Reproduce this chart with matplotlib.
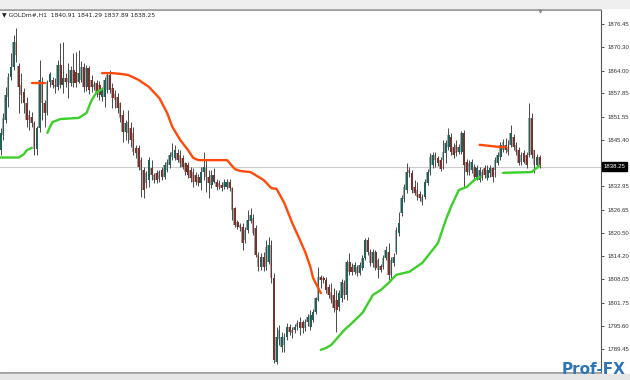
import matplotlib
matplotlib.use("Agg")
import matplotlib.pyplot as plt
from matplotlib.patches import Rectangle
import matplotlib.transforms as mtransforms

plt.rcParams['font.family'] = ['Liberation Sans', 'DejaVu Sans']

# GOLDm#, H1 candles (oldest -> newest)
symbol = "GOLDm#,H1"

opens = [
    1842.7, 1846.7, 1850.8, 1856.9, 1862.3, 1864.9, 1871.6, 1865.2, 1860.1, 1858.2,
    1855.3, 1852.1, 1851.5, 1849.9, 1843.0, 1848.6, 1860.9, 1855.3, 1852.6, 1860.9,
    1861.5, 1860.1, 1859.6, 1865.5, 1860.1, 1862.0, 1860.9, 1860.7, 1864.1, 1863.6,
    1860.9, 1861.5, 1864.9, 1859.6, 1864.7, 1861.5, 1859.6,
    1860.7, 1860.1, 1856.9, 1856.9, 1858.8, 1862.8, 1859.3, 1857.7, 1856.9, 1855.3,
    1852.1, 1847.5, 1850.2, 1848.5, 1847.3, 1843.2, 1843.2, 1840.0, 1837.4, 1833.9,
    1834.7, 1837.9, 1836.0, 1836.6, 1834.9, 1837.4, 1835.5, 1837.4, 1838.7, 1840.8,
    1840.5, 1841.9, 1841.4, 1840.5, 1839.2, 1838.7, 1837.4, 1836.8, 1836.0,
    1835.5, 1833.9, 1836.8, 1837.9, 1835.5, 1833.4, 1836.0, 1834.2, 1833.9, 1833.4,
    1832.8, 1832.8, 1834.2, 1832.5, 1827.2, 1823.4, 1822.6, 1822.1, 1818.6, 1821.3,
    1823.7, 1824.5, 1821.8, 1814.6, 1811.4, 1814.1, 1811.4, 1812.7, 1817.3, 1808.5,
    1786.0, 1792.0, 1790.0, 1790.5, 1792.7, 1795.3, 1794.5, 1794.5,
    1795.3, 1796.6, 1796.6, 1795.0, 1796.6, 1795.3, 1797.2, 1799.3, 1802.6, 1808.7,
    1808.5, 1807.9, 1806.0, 1804.7, 1803.9, 1802.6, 1800.7, 1803.0, 1807.0, 1803.9,
    1812.7, 1811.5, 1810.1, 1811.4, 1809.8, 1811.0, 1813.8, 1818.6, 1815.4, 1812.5,
    1815.4, 1810.6, 1811.6, 1811.4, 1813.8, 1815.4, 1809.3, 1812.5, 1815.4, 1820.5,
    1825.9, 1829.6, 1832.0, 1837.4, 1836.6, 1832.8, 1832.0, 1831.0, 1828.8, 1830.2,
    1834.0, 1836.8, 1838.7, 1841.4, 1840.5, 1840.0, 1840.0, 1842.0, 1843.5, 1846.2,
    1843.5, 1844.0, 1842.2, 1842.2, 1847.3, 1839.5, 1836.8, 1837.4, 1838.2, 1835.2,
    1834.7, 1836.8,
    1837.9, 1835.2, 1836.6, 1837.9, 1837.4, 1839.2, 1840.8, 1842.7, 1844.1, 1843.5,
    1844.1, 1846.2, 1844.0, 1842.7, 1839.5, 1841.9, 1841.4, 1841.4, 1851.3, 1842.7,
    1838.7, 1840.91,
]
highs = [
    1848.6, 1852.6, 1859.6, 1863.3, 1868.7, 1873.5, 1875.4, 1866.0, 1863.3, 1859.3,
    1856.9, 1853.4, 1852.9, 1850.5, 1849.1, 1866.8, 1862.3, 1856.1, 1861.5, 1863.6,
    1862.3, 1862.0, 1866.8, 1871.4, 1871.6, 1863.3, 1866.0, 1865.2, 1868.7, 1869.0,
    1869.5, 1866.5, 1866.0, 1865.5, 1865.2, 1862.8, 1861.2,
    1861.5, 1861.2, 1859.6, 1862.3, 1863.6, 1864.1, 1860.7, 1858.8, 1858.0, 1855.6,
    1853.4, 1850.8, 1853.4, 1850.2, 1848.9, 1844.0, 1844.1, 1840.8, 1838.2, 1837.1,
    1840.8, 1840.0, 1836.6, 1837.4, 1837.4, 1838.2, 1839.5, 1840.3, 1842.2, 1844.6,
    1844.1, 1843.0, 1842.7, 1841.4, 1839.5, 1839.5, 1838.2, 1837.9, 1836.8,
    1836.3, 1838.2, 1842.2, 1840.0, 1837.4, 1837.4, 1837.9, 1834.9, 1834.7, 1834.2,
    1834.9, 1834.9, 1834.9, 1832.8, 1827.5, 1824.0, 1823.2, 1823.2, 1822.1, 1826.7,
    1827.2, 1825.6, 1822.6, 1815.4, 1815.0, 1815.4, 1818.6, 1819.4, 1818.6, 1809.8,
    1795.3, 1795.9, 1794.0, 1793.7, 1796.4, 1796.1, 1795.3, 1796.1,
    1797.2, 1798.0, 1797.2, 1797.5, 1798.8, 1799.9, 1800.2, 1803.4, 1811.4, 1809.3,
    1809.0, 1808.7, 1806.8, 1807.1, 1805.8, 1805.2, 1805.2, 1808.2, 1807.9, 1813.3,
    1815.1, 1812.5, 1812.7, 1812.0, 1812.7, 1814.6, 1819.2, 1819.4, 1816.2, 1816.2,
    1816.0, 1813.8, 1812.2, 1814.6, 1817.0, 1817.8, 1814.1, 1815.0, 1822.1, 1826.1,
    1830.7, 1833.6, 1839.2, 1838.2, 1837.4, 1834.7, 1834.2, 1831.8, 1831.0, 1835.0,
    1837.6, 1841.9, 1842.2, 1842.2, 1841.1, 1840.8, 1845.4, 1845.4, 1848.6, 1847.3,
    1844.6, 1845.4, 1844.3, 1847.8, 1848.0, 1840.3, 1840.0, 1840.3, 1839.0, 1838.7,
    1838.2, 1837.6,
    1838.7, 1838.7, 1838.7, 1838.2, 1840.8, 1842.2, 1844.9, 1845.7, 1845.9, 1845.4,
    1849.4, 1847.0, 1844.9, 1843.5, 1842.2, 1842.7, 1842.2, 1855.3, 1852.6, 1842.7,
    1841.6, 1841.29,
]
lows = [
    1841.4, 1845.4, 1849.9, 1854.2, 1861.5, 1864.1, 1866.3, 1852.6, 1855.3, 1852.6,
    1848.9, 1848.1, 1848.9, 1841.4, 1841.4, 1847.5, 1850.8, 1848.9, 1852.1, 1859.6,
    1859.3, 1858.0, 1858.8, 1859.3, 1858.0, 1859.6, 1856.6, 1859.9, 1859.6, 1859.6,
    1860.6, 1860.9, 1858.2, 1858.5, 1857.7, 1858.2, 1858.8,
    1856.9, 1856.1, 1855.8, 1854.2, 1858.0, 1858.0, 1854.0, 1854.0, 1852.6, 1850.2,
    1844.9, 1845.4, 1844.6, 1843.5, 1841.4, 1840.6, 1837.4, 1830.1, 1829.9, 1832.5,
    1832.8, 1834.7, 1833.9, 1833.9, 1834.1, 1834.7, 1835.0, 1836.8, 1838.0, 1840.0,
    1840.0, 1839.5, 1838.2, 1837.6, 1836.0, 1835.2, 1834.2, 1832.8, 1833.4,
    1833.1, 1832.0, 1834.7, 1831.5, 1829.9, 1832.5, 1833.9, 1832.0, 1832.3, 1831.8,
    1832.3, 1832.3, 1831.8, 1824.0, 1822.1, 1821.5, 1821.0, 1816.0, 1817.8, 1820.5,
    1823.2, 1819.9, 1814.1, 1810.3, 1810.6, 1810.3, 1810.6, 1812.2, 1807.1, 1785.7,
    1785.4, 1790.5, 1788.6, 1788.6, 1791.9, 1793.2, 1792.4, 1793.7,
    1794.5, 1793.2, 1793.7, 1794.3, 1795.6, 1794.5, 1796.6, 1798.8, 1802.3, 1805.8,
    1807.1, 1804.4, 1803.1, 1801.7, 1799.3, 1794.0, 1799.6, 1802.0, 1802.8, 1802.6,
    1809.3, 1809.3, 1809.6, 1809.0, 1809.3, 1810.6, 1813.3, 1814.6, 1811.7, 1811.4,
    1810.6, 1808.5, 1810.1, 1810.9, 1813.3, 1807.9, 1808.5, 1811.6, 1814.9, 1819.7,
    1825.1, 1828.8, 1831.2, 1835.5, 1831.2, 1830.7, 1829.3, 1829.1, 1828.0, 1829.6,
    1833.3, 1836.0, 1838.0, 1838.2, 1838.5, 1837.0, 1837.6, 1839.2, 1842.7, 1841.4,
    1840.6, 1841.0, 1841.6, 1841.6, 1832.8, 1836.0, 1836.0, 1836.6, 1834.7, 1834.7,
    1834.2, 1834.7,
    1835.2, 1834.7, 1835.5, 1834.2, 1835.5, 1838.7, 1840.0, 1842.2, 1842.0, 1841.4,
    1843.5, 1842.7, 1841.4, 1838.7, 1838.7, 1839.2, 1838.0, 1840.8, 1840.6, 1836.6,
    1838.0, 1837.89,
]
closes = [
    1847.3, 1851.3, 1857.4, 1862.3, 1864.9, 1871.6, 1868.2, 1859.6, 1857.4, 1855.3,
    1850.8, 1850.8, 1849.9, 1843.0, 1848.6, 1861.5, 1855.3, 1852.6, 1860.9, 1863.1,
    1860.1, 1859.6, 1865.5, 1860.1, 1862.0, 1860.9, 1862.0, 1864.1, 1860.7, 1860.7,
    1863.3, 1864.9, 1859.6, 1864.7, 1858.8, 1859.6, 1860.4,
    1858.0, 1857.4, 1858.8, 1861.5, 1862.8, 1858.8, 1856.6, 1856.1, 1853.9, 1851.3,
    1847.5, 1849.9, 1847.3, 1845.4, 1842.2, 1841.9, 1838.2, 1837.4, 1832.0, 1836.6,
    1840.0, 1836.0, 1834.7, 1834.7, 1836.8, 1835.5, 1838.7, 1839.5, 1841.4, 1842.2,
    1842.7, 1840.0, 1839.2, 1838.2, 1836.8, 1836.0, 1835.2, 1834.2, 1834.2,
    1833.9, 1836.8, 1838.2, 1835.5, 1833.9, 1836.0, 1834.2, 1832.8, 1832.8, 1832.5,
    1834.2, 1834.2, 1832.5, 1826.7, 1822.6, 1822.1, 1821.8, 1817.8, 1821.3, 1824.0,
    1825.3, 1820.5, 1814.6, 1811.4, 1814.1, 1811.4, 1816.8, 1817.3, 1808.5, 1786.5,
    1792.7, 1794.5, 1792.7, 1792.7, 1795.3, 1794.0, 1793.7, 1795.3,
    1796.4, 1795.0, 1795.0, 1796.6, 1798.0, 1798.5, 1799.3, 1803.1, 1808.7, 1807.9,
    1807.9, 1805.2, 1803.9, 1802.6, 1800.4, 1799.9, 1804.4, 1807.4, 1803.9, 1812.7,
    1810.1, 1810.1, 1811.9, 1809.8, 1811.9, 1813.8, 1818.6, 1815.4, 1812.5, 1815.4,
    1811.1, 1813.3, 1810.6, 1813.8, 1815.9, 1809.3, 1813.3, 1814.1, 1821.3, 1823.2,
    1829.9, 1832.8, 1836.8, 1836.6, 1832.0, 1831.2, 1830.1, 1829.9, 1830.2, 1834.2,
    1836.8, 1840.8, 1841.4, 1840.0, 1839.2, 1837.6, 1842.2, 1844.6, 1846.7, 1842.2,
    1841.4, 1841.9, 1843.5, 1847.3, 1838.7, 1836.8, 1839.2, 1839.5, 1835.5, 1837.9,
    1837.4, 1835.2,
    1836.0, 1837.4, 1837.9, 1835.5, 1840.0, 1841.4, 1844.1, 1844.9, 1842.7, 1842.2,
    1847.3, 1843.5, 1842.2, 1839.2, 1841.4, 1839.5, 1838.7, 1851.3, 1841.4, 1838.7,
    1840.8, 1838.25,
]

# indicator lines (bar index, price); gaps where the indicator is not drawn
orange_a_bar = [12, 17]
orange_a = [1860.7, 1860.7]
orange_b_bar = [39, 43, 46, 49, 53, 57, 61, 64, 66, 69, 72, 74, 76, 87, 90, 92,
                96, 101, 104, 106, 109, 112, 115, 117, 119, 120, 123]
orange_b = [1863.3, 1863.3, 1863.1, 1862.8, 1861.5, 1859.6, 1856.6, 1852.6, 1848.9,
            1845.4, 1842.7, 1840.6, 1840.0, 1840.0, 1837.6, 1837.1, 1836.8, 1834.7,
            1832.5, 1832.3, 1828.5, 1823.2, 1818.6, 1815.4, 1811.4, 1808.5, 1804.4]
orange_c_bar = [184, 188, 192, 194]
orange_c = [1844.1, 1843.8, 1843.5, 1843.5]

green_a_bar = [0, 7, 9, 10, 12]
green_a = [1840.7, 1840.7, 1841.6, 1842.6, 1843.3]
green_b_bar = [18, 19, 20, 23, 30, 33, 35, 37, 39]
green_b = [1847.3, 1848.9, 1850.2, 1851.0, 1851.3, 1852.6, 1856.1, 1858.2, 1859.0]
green_c_bar = [123, 125, 127, 132, 135, 139, 143, 146, 149, 152, 157, 162, 168, 171,
               173, 176, 179, 182, 184]
green_c = [1789.2, 1789.7, 1790.5, 1794.5, 1796.4, 1799.1, 1803.9, 1805.2, 1807.1,
           1809.3, 1810.1, 1812.5, 1817.8, 1824.0, 1827.5, 1832.0, 1832.8, 1834.7, 1835.5]
green_d_bar = [193, 204, 205, 207]
green_d = [1836.6, 1836.8, 1837.4, 1838.5]

price_ticks = [1876.45, 1870.30, 1864.00, 1857.85, 1851.55, 1845.40, 1832.95,
               1826.65, 1820.50, 1814.20, 1808.05, 1801.75, 1795.60, 1789.45]

bull_color = '#22605a'
bear_color = '#7a302b'
orange = '#ff4a0a'
green = '#3ccf2a'

fig = plt.figure(figsize=(6.3, 3.8), dpi=100)
fig.patches.append(Rectangle((0, 372 / 380), 1, 8 / 380, transform=fig.transFigure,
                             color='#efefef', zorder=0))
fig.patches.append(Rectangle((0, 0), 1, 6 / 380, transform=fig.transFigure,
                             color='#e6e6e6', zorder=0))
ax = fig.add_axes([0, 7 / 380, 601 / 630, 363 / 380])

n = len(closes)
x = list(range(n))

# price line of the last close
ax.axhline(closes[-1], color='#cccccc', lw=0.8, zorder=0)

# candles: wick, grey shade, coloured body
ax.vlines(x, lows, highs, color='#4a4a4a', lw=0.7, zorder=1)
bottoms = [min(o, c) for o, c in zip(opens, closes)]
heights = [max(abs(c - o), 0.35) for o, c in zip(opens, closes)]
cols = [bull_color if c >= o else bear_color for o, c in zip(opens, closes)]
ax.bar([i - 0.12 for i in x], heights, bottom=bottoms, width=0.85, color='#a8a8a8',
       zorder=2, linewidth=0)
ax.bar([i + 0.1 for i in x], heights, bottom=bottoms, width=0.65, color=cols,
       zorder=3, linewidth=0)

for bars, vals, col in [(orange_a_bar, orange_a, orange), (orange_b_bar, orange_b, orange),
                        (orange_c_bar, orange_c, orange), (green_a_bar, green_a, green),
                        (green_b_bar, green_b, green), (green_c_bar, green_c, green),
                        (green_d_bar, green_d, green)]:
    ax.plot(bars, vals, color=col, lw=1.7, solid_capstyle='round', zorder=4)

ax.set_xlim(-0.2, 230.6)
ax.set_ylim(1783.0, 1880.2)
ax.set_xticks([])
ax.yaxis.tick_right()
ax.set_yticks(price_ticks)
ax.set_yticklabels([f"{p:.2f}" for p in price_ticks])
ax.tick_params(axis='y', length=2.5, width=0.6, colors='#333333', labelsize=4.3, pad=2)

ax.spines['left'].set_visible(False)
for s in ['top', 'bottom']:
    ax.spines[s].set_color('#8a8a8a')
    ax.spines[s].set_linewidth(1.2)
ax.spines['right'].set_color('#555555')
ax.spines['right'].set_linewidth(0.8)

# current price marker on the scale
ax.annotate(f"{closes[-1]:.2f}", xy=(1.004, closes[-1]),
            xycoords=('axes fraction', 'data'), ha='left', va='center',
            fontsize=4.3, color='white', annotation_clip=False, zorder=10,
            bbox=dict(boxstyle='square,pad=0.3', fc='black', ec='black'))

# chart info line
ohlc_txt = " ".join(f"{v:.2f}" for v in [opens[-1], highs[-1], lows[-1], closes[-1]])
ax.text(0.003, 0.986, "\u25bc " + symbol + "  " + ohlc_txt, transform=ax.transAxes,
        fontsize=4.3, color='#222222', ha='left', va='center',
        family=['DejaVu Sans'])

# chart shift marker
trans = mtransforms.blended_transform_factory(ax.transData, ax.transAxes)
ax.plot([207.2], [1.0], marker='v', ms=3, color='#888888', transform=trans,
        clip_on=False, zorder=5)

# watermark
fig.text(562 / 630, 0.008, "Prof-FX", fontsize=11, fontweight='bold', color='#2e75b6',
         ha='left', va='bottom', family=['DejaVu Sans'], zorder=20)

fig.savefig("out.png", dpi=100)
